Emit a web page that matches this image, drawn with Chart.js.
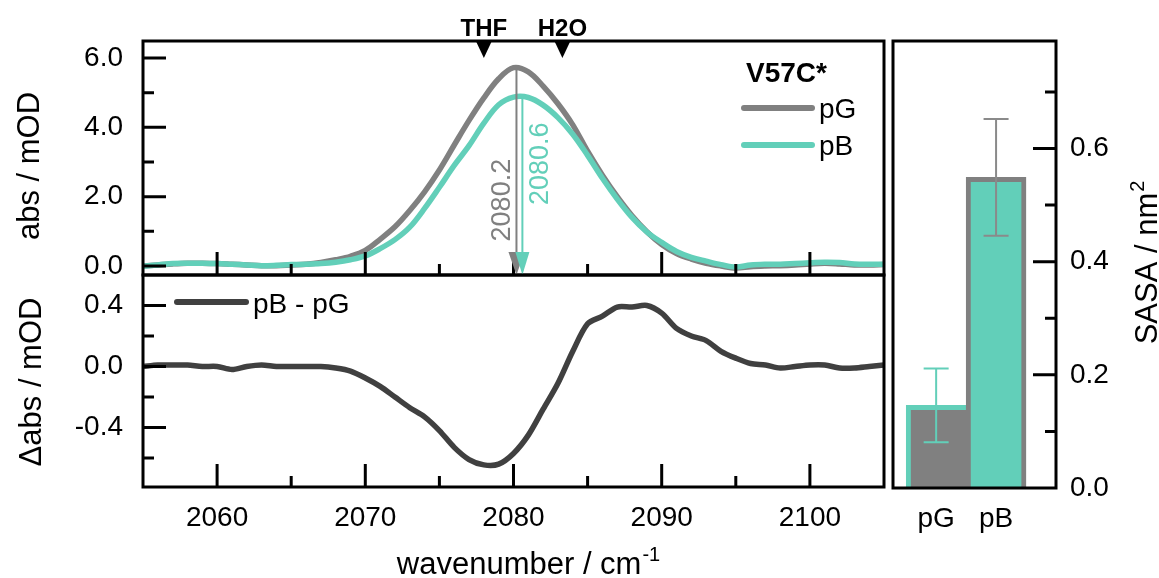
<!DOCTYPE html>
<html>
<head>
<meta charset="utf-8">
<script src="https://cdn.jsdelivr.net/npm/chart.js@4/dist/chart.umd.min.js"></script>
<style>
html,body{margin:0;padding:0;background:#fff;}
#wrap{position:relative;width:1159px;height:578px;overflow:hidden;}
canvas{position:absolute;left:0;top:0;}
</style>
</head>
<body>
<div id="wrap">
<canvas id="cTop" width="1159" height="578"></canvas>
<canvas id="cDiff" width="1159" height="578"></canvas>
<canvas id="cBar" width="1159" height="578"></canvas>
</div>
<script>
// ---------------- DATA ----------------
const WAVENUMBERS = [2055,2056,2057,2058,2059,2060,2061,2062,2063,2064,2065,2066,2067,2068,2069,2070,2071,2072,2073,2074,2075,2076,2077,2078,2079,2080,2081,2082,2083,2084,2085,2086,2087,2088,2089,2090,2091,2092,2093,2094,2095,2096,2097,2098,2099,2100,2101,2102,2103,2104,2105];
const ABS_PG = [0.00,0.03,0.06,0.08,0.08,0.07,0.05,0.03,0.01,0.01,0.03,0.05,0.10,0.18,0.28,0.45,0.77,1.13,1.60,2.14,2.77,3.49,4.20,4.85,5.40,5.72,5.60,5.19,4.68,4.07,3.31,2.62,2.00,1.45,0.99,0.62,0.36,0.20,0.08,0.00,-0.06,-0.02,0.00,0.01,0.03,0.06,0.08,0.06,0.03,0.03,0.04];
const ABS_PB = [0.00,0.03,0.07,0.08,0.08,0.07,0.05,0.03,0.01,0.02,0.04,0.05,0.07,0.11,0.18,0.29,0.50,0.76,1.12,1.66,2.27,2.90,3.47,4.12,4.65,4.87,4.86,4.64,4.28,3.80,3.19,2.53,1.93,1.40,0.98,0.68,0.42,0.25,0.14,0.04,-0.03,0.03,0.05,0.05,0.07,0.09,0.11,0.10,0.06,0.05,0.05];
const DIFF_PB_PG = [0.00,0.01,0.01,0.01,0.00,0.00,-0.02,0.00,0.01,0.00,0.00,0.00,0.00,-0.01,-0.03,-0.075,-0.13,-0.20,-0.27,-0.33,-0.42,-0.53,-0.61,-0.645,-0.64,-0.57,-0.45,-0.28,-0.11,0.10,0.28,0.33,0.39,0.39,0.40,0.35,0.25,0.20,0.17,0.10,0.055,0.02,0.01,-0.01,0.00,0.01,0.01,-0.01,-0.01,0.00,0.01];
const SERIES_LABELS = ['pG','pB'];
const DIFF_LABEL = 'pB - pG';
const SAMPLE_LABEL = 'V57C*';

const X_TICKS = [2060,2070,2080,2090,2100];
const X_MINOR = [2065,2075,2085,2095];
const ABS_TICKS = [0,2,4,6];
const ABS_MINOR = [1,3,5];
const DIFF_TICKS = [-0.4,0,0.4];
const DIFF_MINOR = [-0.6,-0.2,0.2];

const PEAK_POSITIONS = [2080.2, 2080.6];
const PEAK_HEIGHTS = [5.75, 4.88];
const SOLVENT_LABELS = ['THF','H2O'];
const SOLVENT_POSITIONS = [2078.0, 2083.3];

const SASA_CATEGORIES = ['pG','pB'];
const SASA_VALUES = [0.146, 0.549];
const SASA_ERRORS = [0.065, 0.103];
const SASA_TICKS = [0,0.2,0.4,0.6];
const SASA_MINOR = [0.1,0.3,0.5,0.7];

// ---------------- STYLE ----------------
const GREY = '#808080';
const TEAL = '#62cfb9';
const DARK = '#404040';
const FONT = "'Liberation Sans', Arial, Helvetica, sans-serif";
const TICK_FONT = {family: FONT, size: 28};
Chart.defaults.font.family = FONT;
Chart.defaults.color = '#000';

const W = 1159, H = 578;
const LEFT_X = 143, RIGHT_X = 884, TOP_Y = 41, MID_Y = 275, BOT_Y = 487;
const BAR_L = 893, BAR_R = 1056, BAR_B = 488;

function fixWidth(w){ return s => { s.width = w; }; }
function fixHeight(h){ return s => { s.height = h; }; }
function setTicks(arr){ return s => { s.ticks = arr.map(v => ({value: v})); }; }

const framePlugin = {
  id: 'frame',
  afterDatasetsDraw(chart, args, o) {
    const {ctx, chartArea: a, scales} = chart;
    const xs = scales.x, ys = scales.y;
    const MAJ = 23, MIN = 11;
    ctx.save();
    ctx.strokeStyle = '#000';
    ctx.lineWidth = 3;
    ctx.lineCap = 'butt';
    ctx.beginPath();
    (o.xMajor || []).forEach(v => { const p = xs.getPixelForValue(v); ctx.moveTo(p, a.bottom); ctx.lineTo(p, a.bottom - MAJ); });
    (o.xMinor || []).forEach(v => { const p = xs.getPixelForValue(v); ctx.moveTo(p, a.bottom); ctx.lineTo(p, a.bottom - MIN); });
    const side = o.ySide || 'left';
    const x0 = side === 'left' ? a.left : a.right;
    const dir = side === 'left' ? 1 : -1;
    (o.yMajor || []).forEach(v => { const p = ys.getPixelForValue(v); ctx.moveTo(x0, p); ctx.lineTo(x0 + dir * MAJ, p); });
    (o.yMinor || []).forEach(v => { const p = ys.getPixelForValue(v); ctx.moveTo(x0, p); ctx.lineTo(x0 + dir * MIN, p); });
    ctx.stroke();
    ctx.strokeRect(a.left, a.top, a.right - a.left, a.bottom - a.top);
    ctx.restore();
  }
};

function rotText(ctx, text, x, y, font, color, align) {
  ctx.save();
  ctx.translate(x, y);
  ctx.rotate(-Math.PI / 2);
  ctx.font = font;
  ctx.fillStyle = color;
  ctx.textAlign = align || 'center';
  ctx.textBaseline = 'alphabetic';
  ctx.fillText(text, 0, 0);
  ctx.restore();
}

function legendLine(ctx, x1, x2, y, color) {
  ctx.save();
  ctx.strokeStyle = color;
  ctx.lineWidth = 6;
  ctx.lineCap = 'round';
  ctx.beginPath(); ctx.moveTo(x1, y); ctx.lineTo(x2, y); ctx.stroke();
  ctx.restore();
}

// ---------------- TOP CHART ----------------
const topAnnot = {
  id: 'topAnnot',
  afterDatasetsDraw(chart) {
    const {ctx, chartArea: a, scales: {x, y}} = chart;
    ctx.save();
    const colors = [GREY, TEAL];
    const halfW = [8, 7];
    PEAK_POSITIONS.forEach((p, i) => {
      const px = x.getPixelForValue(p);
      const py = y.getPixelForValue(PEAK_HEIGHTS[i]);
      ctx.strokeStyle = colors[i];
      ctx.lineWidth = 2;
      ctx.beginPath(); ctx.moveTo(px, py); ctx.lineTo(px, a.bottom - 20); ctx.stroke();
      ctx.fillStyle = colors[i];
      ctx.beginPath();
      ctx.moveTo(px - halfW[i], a.bottom - 23); ctx.lineTo(px + halfW[i], a.bottom - 23); ctx.lineTo(px, a.bottom);
      ctx.closePath(); ctx.fill();
    });
    const f27 = '27px ' + FONT;
    const gx = x.getPixelForValue(PEAK_POSITIONS[0]);
    const tx = x.getPixelForValue(PEAK_POSITIONS[1]);
    rotText(ctx, PEAK_POSITIONS[0].toFixed(1), gx - 6, y.getPixelForValue(1.9), f27, GREY);
    rotText(ctx, PEAK_POSITIONS[1].toFixed(1), tx + 26, y.getPixelForValue(2.95), f27, TEAL);
    // solvent markers
    ctx.fillStyle = '#000';
    ctx.font = 'bold 24px ' + FONT;
    ctx.textAlign = 'center';
    ctx.textBaseline = 'alphabetic';
    SOLVENT_POSITIONS.forEach((p, i) => {
      const px = x.getPixelForValue(p);
      ctx.beginPath();
      ctx.moveTo(px - 8, a.top); ctx.lineTo(px + 8, a.top); ctx.lineTo(px, a.top + 17);
      ctx.closePath(); ctx.fill();
      ctx.fillText(SOLVENT_LABELS[i], px, a.top - 5);
    });
    // legend
    ctx.textAlign = 'left';
    ctx.font = 'bold 28px ' + FONT;
    ctx.fillText(SAMPLE_LABEL, 746, 82);
    ctx.font = '28px ' + FONT;
    chart.data.datasets.forEach((ds, i) => {
      const ly = 108 + i * 37;
      legendLine(ctx, 744, 812, ly, ds.borderColor);
      ctx.fillStyle = '#000';
      ctx.fillText(ds.label, 819, ly + 10);
    });
    rotText(ctx, 'abs / mOD', 39, 166, '31px ' + FONT, '#000');
    ctx.restore();
  }
};

new Chart(document.getElementById('cTop'), {
  type: 'line',
  data: {
    datasets: [
      {label: SERIES_LABELS[0], data: WAVENUMBERS.map((w, i) => ({x: w, y: ABS_PG[i]})), borderColor: GREY, order: 2},
      {label: SERIES_LABELS[1], data: WAVENUMBERS.map((w, i) => ({x: w, y: ABS_PB[i]})), borderColor: TEAL, order: 1}
    ]
  },
  options: {
    responsive: false, animation: false, devicePixelRatio: 1,
    layout: {padding: {left: 0, top: TOP_Y, right: W - RIGHT_X, bottom: H - MID_Y}},
    elements: {line: {borderWidth: 5.5, tension: 0.35, borderCapStyle: 'round', borderJoinStyle: 'round', fill: false}, point: {radius: 0}},
    plugins: {legend: {display: false}, tooltip: {enabled: false},
      frame: {xMajor: X_TICKS, xMinor: X_MINOR, yMajor: ABS_TICKS, yMinor: ABS_MINOR}},
    scales: {
      x: {type: 'linear', min: 2055, max: 2105, display: false},
      y: {type: 'linear', min: -0.26, max: 6.49, position: 'left',
        afterFit: fixWidth(LEFT_X), afterBuildTicks: setTicks(ABS_TICKS),
        grid: {display: false, drawTicks: false}, border: {display: false},
        ticks: {font: TICK_FONT, color: '#000', padding: 20, callback: v => v.toFixed(1)}}
    }
  },
  plugins: [framePlugin, topAnnot]
});

// ---------------- DIFF CHART ----------------
const diffAnnot = {
  id: 'diffAnnot',
  afterDatasetsDraw(chart) {
    const {ctx} = chart;
    ctx.save();
    legendLine(ctx, 177, 246, 302, DARK);
    ctx.fillStyle = '#000';
    ctx.font = '28px ' + FONT;
    ctx.textAlign = 'left';
    ctx.textBaseline = 'alphabetic';
    ctx.fillText(chart.data.datasets[0].label, 253, 313);
    rotText(ctx, '\u0394abs / mOD', 41, 382, '31px ' + FONT, '#000');
    const main = 'wavenumber / cm', sup = '-1';
    ctx.font = '31px ' + FONT;
    const w1 = ctx.measureText(main).width;
    ctx.font = '20px ' + FONT;
    const w2 = ctx.measureText(sup).width;
    const x0 = 528 - (w1 + w2) / 2;
    ctx.font = '31px ' + FONT;
    ctx.fillText(main, x0, 574);
    ctx.font = '20px ' + FONT;
    ctx.fillText(sup, x0 + w1 + 1, 561);
    ctx.restore();
  }
};

new Chart(document.getElementById('cDiff'), {
  type: 'line',
  data: {
    datasets: [
      {label: DIFF_LABEL, data: WAVENUMBERS.map((w, i) => ({x: w, y: DIFF_PB_PG[i]})), borderColor: DARK}
    ]
  },
  options: {
    responsive: false, animation: false, devicePixelRatio: 1,
    layout: {padding: {left: 0, top: MID_Y, right: W - RIGHT_X, bottom: 41}},
    elements: {line: {borderWidth: 5.5, tension: 0.3, borderCapStyle: 'round', borderJoinStyle: 'round', fill: false}, point: {radius: 0}},
    plugins: {legend: {display: false}, tooltip: {enabled: false},
      frame: {xMajor: X_TICKS, xMinor: X_MINOR, yMajor: DIFF_TICKS, yMinor: DIFF_MINOR}},
    scales: {
      x: {type: 'linear', min: 2055, max: 2105, position: 'bottom',
        afterFit: fixHeight(H - 41 - BOT_Y), afterBuildTicks: setTicks(X_TICKS),
        grid: {display: false, drawTicks: false}, border: {display: false},
        ticks: {font: TICK_FONT, color: '#000', padding: 14, maxRotation: 0, autoSkip: false, callback: v => String(v)}},
      y: {type: 'linear', min: -0.79, max: 0.6, position: 'left',
        afterFit: fixWidth(LEFT_X), afterBuildTicks: setTicks(DIFF_TICKS),
        grid: {display: false, drawTicks: false}, border: {display: false},
        ticks: {font: TICK_FONT, color: '#000', padding: 20, callback: v => v.toFixed(1)}}
    }
  },
  plugins: [framePlugin, diffAnnot]
});

// ---------------- BAR CHART ----------------
const barAnnot = {
  id: 'barAnnot',
  afterDatasetsDraw(chart) {
    const {ctx, scales: {x, y}} = chart;
    ctx.save();
    const errColors = [TEAL, '#8a8a8a'];
    SASA_VALUES.forEach((v, i) => {
      const px = x.getPixelForValue(i + 1);
      const yt = y.getPixelForValue(v + SASA_ERRORS[i]);
      const yb = y.getPixelForValue(v - SASA_ERRORS[i]);
      ctx.strokeStyle = errColors[i];
      ctx.lineWidth = 2;
      ctx.beginPath();
      ctx.moveTo(px, yt); ctx.lineTo(px, yb);
      ctx.moveTo(px - 12.5, yt); ctx.lineTo(px + 12.5, yt);
      ctx.moveTo(px - 12.5, yb); ctx.lineTo(px + 12.5, yb);
      ctx.stroke();
    });
    ctx.translate(1157, 263);
    ctx.rotate(-Math.PI / 2);
    ctx.fillStyle = '#000';
    ctx.textBaseline = 'alphabetic';
    ctx.textAlign = 'left';
    const main = 'SASA / nm', sup = '2';
    ctx.font = '31px ' + FONT;
    const w1 = ctx.measureText(main).width;
    ctx.font = '20px ' + FONT;
    const w2 = ctx.measureText(sup).width;
    const x0 = -(w1 + w2) / 2;
    ctx.font = '31px ' + FONT;
    ctx.fillText(main, x0, 0);
    ctx.font = '20px ' + FONT;
    ctx.fillText(sup, x0 + w1 + 1, -13);
    ctx.restore();
  }
};

new Chart(document.getElementById('cBar'), {
  type: 'bar',
  data: {
    datasets: [{
      label: 'SASA',
      data: SASA_VALUES.map((v, i) => ({x: i + 1, y: v})),
      backgroundColor: [GREY, TEAL],
      borderColor: [TEAL, GREY],
      borderWidth: [{top: 5, left: 5, right: 0, bottom: 0}, {top: 5, left: 5, right: 5, bottom: 0}],
      borderSkipped: false,
      barPercentage: 1, categoryPercentage: 1
    }]
  },
  options: {
    responsive: false, animation: false, devicePixelRatio: 1,
    layout: {padding: {left: BAR_L, top: TOP_Y, right: 0, bottom: 40}},
    plugins: {legend: {display: false}, tooltip: {enabled: false},
      frame: {yMajor: SASA_TICKS.slice(1), yMinor: SASA_MINOR, ySide: 'right'}},
    scales: {
      x: {type: 'linear', min: 0.28, max: 3.0, position: 'bottom', offset: false,
        afterFit: fixHeight(H - 40 - BAR_B), afterBuildTicks: setTicks([1, 2]),
        grid: {display: false, drawTicks: false}, border: {display: false},
        ticks: {font: TICK_FONT, color: '#000', padding: 14, maxRotation: 0, autoSkip: false, callback: v => SASA_CATEGORIES[v - 1]}},
      y: {type: 'linear', min: 0, max: 0.79, position: 'right',
        afterFit: fixWidth(W - BAR_R), afterBuildTicks: setTicks(SASA_TICKS),
        grid: {display: false, drawTicks: false}, border: {display: false},
        ticks: {font: TICK_FONT, color: '#000', padding: 14, callback: v => v.toFixed(1)}}
    }
  },
  plugins: [framePlugin, barAnnot]
});
</script>
</body>
</html>
